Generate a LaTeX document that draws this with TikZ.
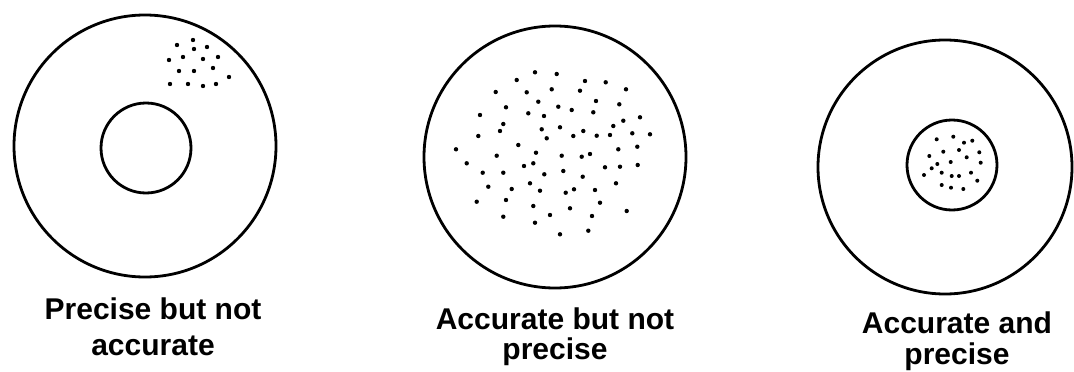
\documentclass[tikz,border=0pt]{standalone}
\usepackage{fontspec}
\setmainfont{Liberation Sans}
\begin{document}
\begin{tikzpicture}[x=1pt,y=-1pt,
  ring/.style={draw=black,line width=2.8pt,fill=none},
  shot/.style={fill=black},
  lbl/.style={anchor=base,inner sep=0pt,font=\fontsize{30}{36}\selectfont\bfseries}]
\useasboundingbox (0,0) rectangle (1074,372);
\fill[white] (0,0) rectangle (1074,372);
% left target
\draw[ring] (145,146) circle[radius=131pt];
\draw[ring] (146,148) circle[radius=45pt];
\foreach \p in {(177,45),(193,40),(194,49),(207,47),(169,60),(183,57),(203,59),(218,57),(179,71),(194,71),(213,68),(229,77),(170,84),(188,84),(203,86),(216,84)}
  \fill[shot] \p circle[radius=2.2pt];
% middle target
\draw[ring] (555,157) circle[radius=131pt];
\foreach \p in {(535,72.3),(556.7,74),(516.7,80),(585,81),(605.7,82.3),(495.7,92),(526.7,92.3),(551.7,89.3),(580,90.7),(626,89.3),(538.3,101.7),(596,101),(506,107.3),(558.3,106.7),(571.7,110),(619.3,104.3),(480,115),(528.3,113.3),(544,116),(593.3,112.3),(640,117.3),(503.3,124),(623.3,120.7),(500,131),(541.7,129.3),(560,127.3),(573.3,136),(583.3,131),(613.3,126),(478.3,136),(546.7,138.3),(596.7,135.7),(610,135),(632.3,133.3),(650,134.3),(456,149.3),(518.3,145),(536,152.7),(618.3,149.3),(637.3,146.7),(496.7,155.7),(561.7,155.7),(581.7,156.7),(590,154),(466.7,163.3),(524,166),(533.3,163.3),(605,167.3),(620,166.7),(637.7,165),(482.7,172.7),(503.3,172.7),(544.3,174.3),(563.3,171),(582.7,176.7),(488.3,186.7),(511.7,189),(530,183.3),(540,190.7),(565.7,192.7),(574,189.3),(595,190),(616,183.3),(476.7,201.7),(506,200),(533.3,206),(570,208.3),(600,202.7),(626.7,211),(503.3,216.7),(550,215),(592,216),(535,222.7),(560,234.3),(588.3,230.7)}
  \fill[shot] \p circle[radius=2.2pt];
% right target
\draw[ring] (945,167) circle[radius=127pt];
\draw[ring] (952,165) circle[radius=45pt];
\foreach \p in {(936.7,139.3),(953.3,136.7),(964,142.7),(972.3,140.7),(929.3,156),(943.3,151.7),(959,150),(979.3,152.3),(966.7,157.3),(937.3,164),(950.7,162),(980.7,162.7),(931.7,168.3),(924,175),(941.7,172.7),(951.7,176),(959,176),(971,172.7),(977.3,180.7),(941.7,185),(951,187.7),(963.3,189)}
  \fill[shot] \p circle[radius=2pt];
% labels
\node[lbl] (la1) at (153,319) {Precise but not};
\node[lbl] (la2) at (153,355) {accurate};
\node[lbl] (lb1) at (555,329) {Accurate but not};
\node[lbl] (lb2) at (555,359) {precise};
\node[lbl] (lc1) at (957,333) {Accurate and};
\node[lbl] (lc2) at (957,364) {precise};
\end{tikzpicture}
\end{document}
